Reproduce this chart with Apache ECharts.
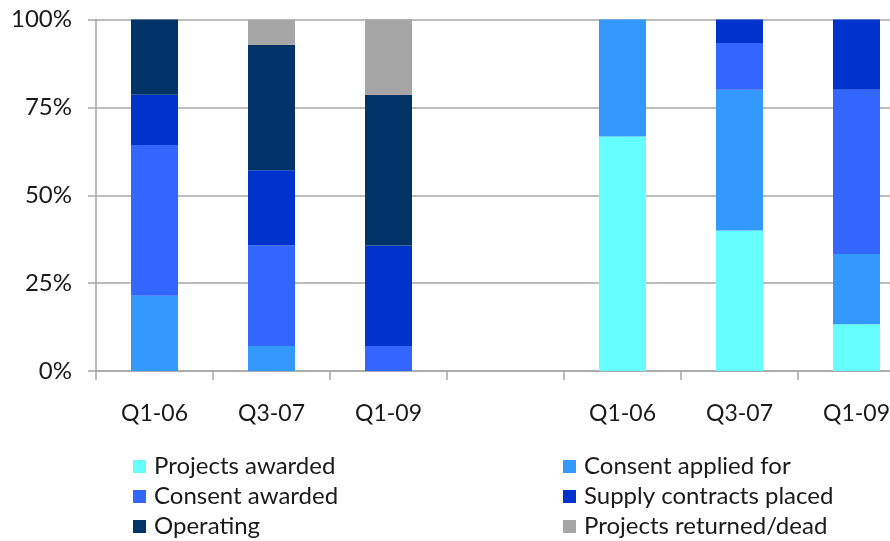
<!DOCTYPE html>
<html>
<head>
<meta charset="utf-8">
<title>Project pipeline by stage</title>
<script src="https://cdn.jsdelivr.net/npm/echarts@6/dist/echarts.min.js"></script>
<style>
  html, body { margin: 0; padding: 0; background: #ffffff; }
  #chart { width: 890px; height: 541px; }
</style>
</head>
<body>
<div id="chart"></div>
<script>
// Quarters for the two groups, separated by an empty slot
const categories = ['Q1-06', 'Q3-07', 'Q1-09', '', 'Q1-06', 'Q3-07', 'Q1-09'];

// Share of projects at each stage (percent of the column)
const projectsAwarded   = [0,    0,    0,    null, 66.7, 40.0, 13.3];
const consentApplied    = [21.4, 7.1,  0,    null, 33.3, 40.0, 20.0];
const consentAwarded    = [42.9, 28.6, 7.1,  null, 0,    13.3, 46.7];
const supplyContracts   = [14.3, 21.4, 28.6, null, 0,    6.7,  20.0];
const operating         = [21.4, 35.7, 42.9, null, 0,    0,    0];
const returnedDead      = [0,    7.1,  21.4, null, 0,    0,    0];

const yTicks = [0, 25, 50, 75, 100];

const FONT = 'Lato, "Open Sans", sans-serif';
const TEXT = '#1a1a1a';
const LINE = '#a6a6a6';

const stages = [
  { name: 'Projects awarded',         data: projectsAwarded, color: '#66ffff' },
  { name: 'Consent applied for',      data: consentApplied,  color: '#3399ff' },
  { name: 'Consent awarded',          data: consentAwarded,  color: '#3366ff' },
  { name: 'Supply contracts placed',  data: supplyContracts, color: '#0033cc' },
  { name: 'Operating',                data: operating,       color: '#003366' },
  { name: 'Projects returned/dead',   data: returnedDead,    color: '#a6a6a6' }
];

const chart = echarts.init(document.getElementById('chart'), null, { renderer: 'canvas' });

// Two vertical legend columns, three entries each
const legendCommon = {
  orient: 'vertical',
  icon: 'rect',
  itemWidth: 13,
  itemHeight: 13,
  itemGap: 6,
  height: 92,
  selectedMode: false,
  textStyle: { fontFamily: FONT, fontSize: 24, lineHeight: 16, color: TEXT, padding: [0, 0, 0, 3] },
  padding: 0
};

chart.setOption({
  animation: false,
  backgroundColor: '#ffffff',
  grid: {
    left: 96,
    top: 19.5,
    bottom: 170,
    right: -25,
    outerBoundsMode: 'none'
  },
  legend: [
    Object.assign({}, legendCommon, {
      left: 133, top: 454.5,
      data: ['Projects awarded', 'Consent awarded', 'Operating']
    }),
    Object.assign({}, legendCommon, {
      left: 563, top: 454.5,
      data: ['Consent applied for', 'Supply contracts placed', 'Projects returned/dead']
    })
  ],
  xAxis: {
    type: 'category',
    data: categories,
    boundaryGap: true,
    axisLine: { show: true, lineStyle: { color: LINE, width: 1.5 } },
    axisTick: { show: true, length: 9, lineStyle: { color: LINE, width: 1.5 }, alignWithLabel: false },
    axisLabel: { fontFamily: FONT, fontSize: 23, color: TEXT, margin: 31, interval: 0 },
    splitLine: { show: false }
  },
  yAxis: {
    type: 'value',
    min: yTicks[0],
    max: yTicks[yTicks.length - 1],
    interval: 25,
    axisLine: { show: true, lineStyle: { color: LINE, width: 1.5 } },
    axisTick: { show: true, inside: false, length: 8, lineStyle: { color: LINE, width: 1.5 } },
    axisLabel: { fontFamily: FONT, fontSize: 24, color: TEXT, margin: 24, formatter: '{value}%' },
    splitLine: { show: true, lineStyle: { color: LINE, width: 1.5 } }
  },
  series: stages.map(s => ({
    name: s.name,
    type: 'bar',
    stack: 'share',
    barWidth: 47,
    data: s.data,
    itemStyle: { color: s.color },
    emphasis: { disabled: true }
  }))
});
</script>
</body>
</html>
